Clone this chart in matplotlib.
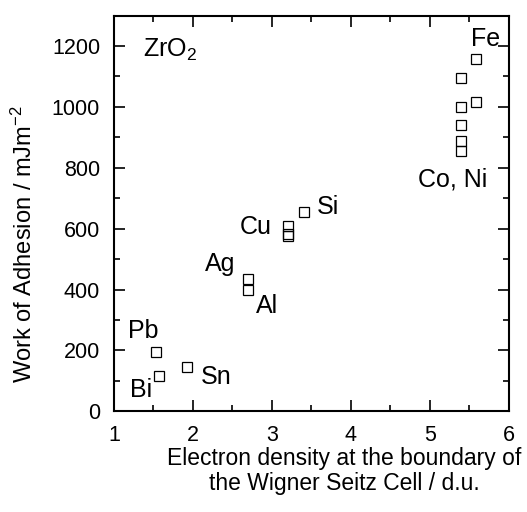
import matplotlib
matplotlib.use("Agg")
from matplotlib import pyplot as plt
from matplotlib.ticker import MultipleLocator

# measured points (electron density, work of adhesion)
density = [1.53, 1.57, 1.92, 2.70, 2.70, 3.20, 3.20, 3.20, 3.40,
           5.39, 5.39, 5.39, 5.39, 5.39, 5.58, 5.58]
adhesion = [195, 117, 145, 436, 397, 609, 584, 575, 656,
            1094, 1001, 941, 889, 856, 1158, 1015]

# element labels and where they sit
labels = ["Pb", "Bi", "Sn", "Ag", "Al", "Cu", "Si", "Co, Ni", "Fe"]
label_x = [1.37, 1.34, 2.29, 2.35, 2.94, 2.80, 3.71, 5.29, 5.70]
label_y = [242, 47, 90, 460, 324, 581, 647, 739, 1201]

plt.rcParams['font.family'] = ['Liberation Sans', 'DejaVu Sans']
plt.rcParams['mathtext.fontset'] = 'custom'
plt.rcParams['mathtext.rm'] = 'Liberation Sans'
plt.rcParams['mathtext.it'] = 'Liberation Sans'

fig = plt.figure(figsize=(5.27, 5.12), dpi=100)
ax = fig.add_axes([0.2163, 0.1965, 0.7495, 0.7732])

ax.plot(density, adhesion, linestyle='none', marker='s', markersize=6.8,
        markerfacecolor='none', markeredgecolor='black', markeredgewidth=0.9)

for lab, lx, ly in zip(labels, label_x, label_y):
    ax.text(lx, ly, lab, ha='center', va='baseline', fontsize=18)

ax.text(1.37, 1164, "ZrO$_2$", ha='left', va='baseline', fontsize=18)

ax.set_xlim(1, 6)
ax.set_ylim(0, 1300)
ax.xaxis.set_major_locator(MultipleLocator(1))
ax.xaxis.set_minor_locator(MultipleLocator(0.5))
ax.yaxis.set_minor_locator(MultipleLocator(100))
ax.set_yticks([0, 200, 400, 600, 800, 1000, 1200])
ax.tick_params(which='both', direction='in', top=True, right=True, width=1.2, labelsize=15.5)
ax.tick_params(which='major', length=8)
ax.tick_params(which='minor', length=4)
ax.tick_params(axis='x', pad=10)
ax.tick_params(axis='y', pad=10)
for s in ax.spines.values():
    s.set_linewidth(1.5)

fig.text(0.046, 0.524, "Work of Adhesion / mJm$^{-2}$", rotation=90,
         ha='center', va='center', fontsize=17)
fig.text(0.653, 0.080, "Electron density at the boundary of\nthe Wigner Seitz Cell / d.u.",
         ha='center', va='center', fontsize=16.5, linespacing=1.1)

plt.savefig('out.png', dpi=100)
